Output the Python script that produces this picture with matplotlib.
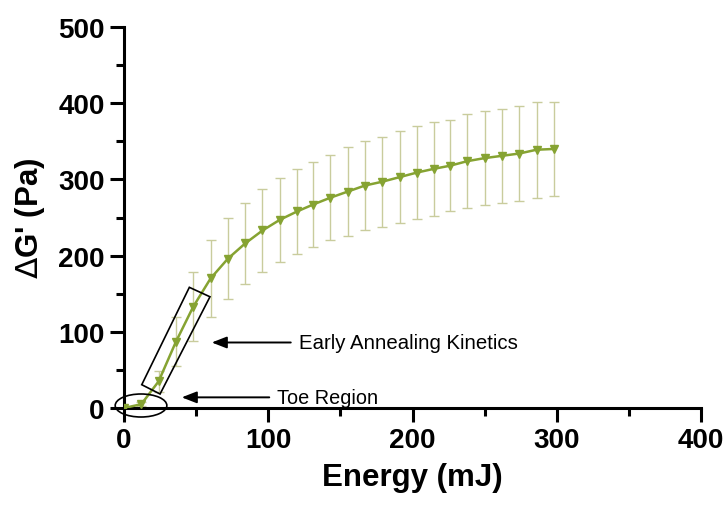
import matplotlib
matplotlib.use("Agg")
import matplotlib.pyplot as plt
from matplotlib.patches import Ellipse, Polygon
from matplotlib.ticker import MultipleLocator

plt.rcParams['font.family'] = ['Liberation Sans', 'DejaVu Sans']

# data
energy = [0, 12, 24, 36, 48, 60, 72, 84, 96, 108, 120, 131, 143,
          155, 167, 179, 191, 203, 215, 226, 238, 250, 262, 274, 286, 298]
dG = [0, 5, 35, 87, 133, 170, 196, 216, 233, 247, 258, 267, 276,
      284, 292, 297, 303, 309, 314, 318, 324, 328, 331, 334, 339, 340]
sd = [0, 3, 14, 32, 45, 50, 53, 53, 54, 55, 56, 56, 56,
      58, 59, 59, 60, 61, 62, 60, 62, 62, 62, 62, 63, 62]

line_col = '#86a332'
err_col = '#c9cc9d'

fig = plt.figure(figsize=(7.26, 5.10), dpi=100)
ax = fig.add_axes([0.1708, 0.198, 0.9656 - 0.1708, 0.945 - 0.198])

ax.errorbar(energy, dG, yerr=sd, fmt='none', ecolor=err_col,
            elinewidth=1.0, capsize=3.5, capthick=1.0, zorder=2)
ax.plot(energy, dG, color=line_col, lw=1.8, marker='v', markersize=6,
        markerfacecolor=line_col, markeredgecolor=line_col, zorder=3)

ax.set_xlim(0, 400)
ax.set_ylim(0, 500)
ax.xaxis.set_major_locator(MultipleLocator(100))
ax.xaxis.set_minor_locator(MultipleLocator(50))
ax.yaxis.set_major_locator(MultipleLocator(100))
ax.yaxis.set_minor_locator(MultipleLocator(50))

for s in ['top', 'right']:
    ax.spines[s].set_visible(False)
for s in ['left', 'bottom']:
    ax.spines[s].set_linewidth(2.2)

ax.tick_params(which='major', length=10, width=2.2, labelsize=20, pad=4)
ax.tick_params(which='minor', length=5.5, width=2.2)
for lab in ax.get_xticklabels() + ax.get_yticklabels():
    lab.set_fontweight('bold')

ax.set_xlabel('Energy (mJ)', fontsize=22.5, fontweight='bold', labelpad=6)
ax.set_ylabel(r"$\Delta$G' (Pa)", fontsize=22.5, fontweight='bold', labelpad=8)

# annotations
ell = Ellipse((11.8, 3.3), 35.8, 30.2, fill=False, edgecolor='black',
              lw=1.2, clip_on=False, zorder=4)
ax.add_patch(ell)
box = Polygon([(45.3, 158.4), (59.6, 146), (25, 18.4), (12.3, 30.6)],
              closed=True, fill=False, edgecolor='black', lw=1.2,
              clip_on=False, zorder=4)
ax.add_patch(box)

arrow = dict(arrowstyle='-|>,head_length=0.9,head_width=0.35',
             color='black', lw=1.4, shrinkA=0, shrinkB=0)
ax.annotate('', xy=(60.8, 86), xytext=(115.6, 86), arrowprops=arrow)
ax.text(121.5, 86, 'Early Annealing Kinetics', fontsize=14.7,
        va='center', ha='left')
ax.annotate('', xy=(40, 14), xytext=(100.7, 14), arrowprops=arrow)
ax.text(106.3, 14, 'Toe Region', fontsize=14.3, va='center', ha='left')

fig.savefig('out.png', dpi=100)
